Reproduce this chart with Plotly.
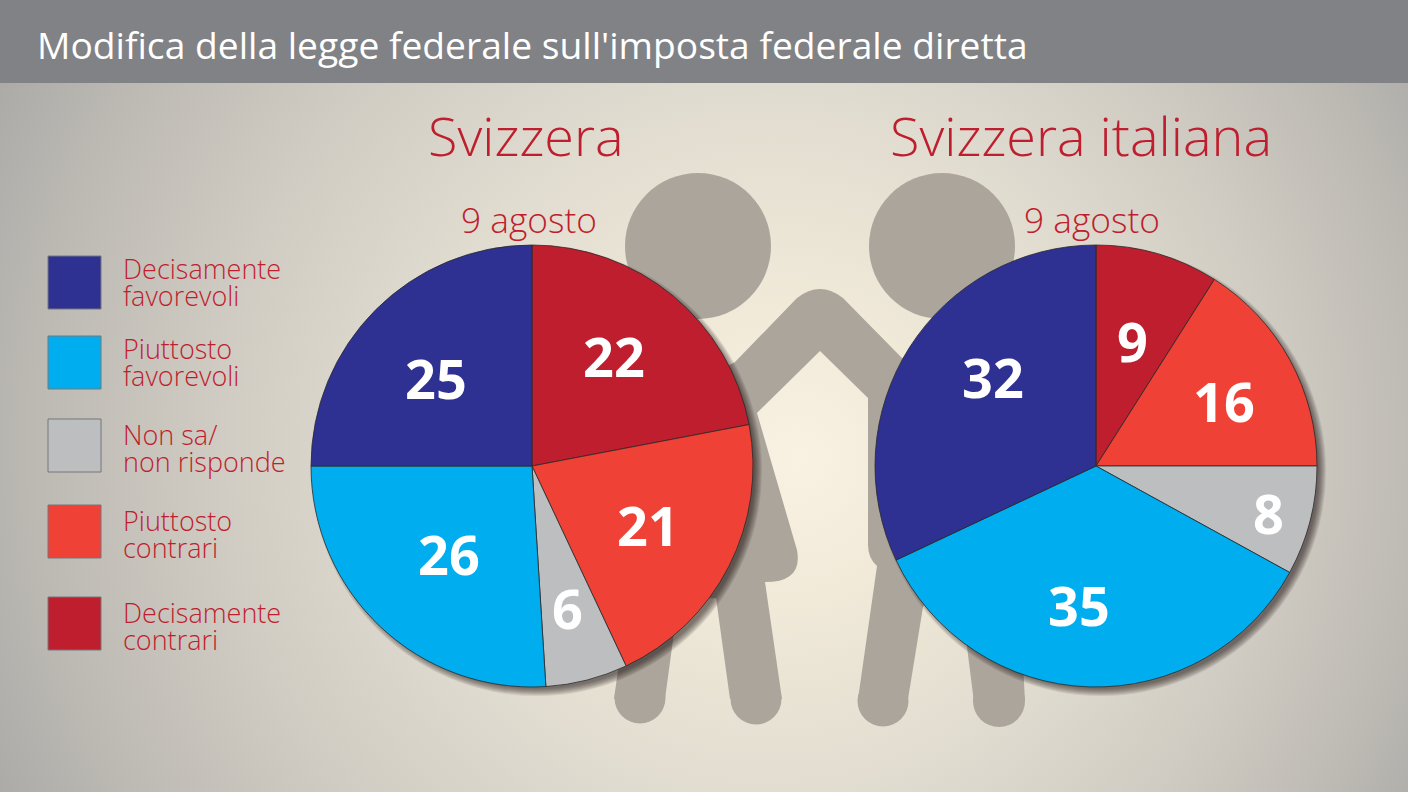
import base64
import plotly.graph_objects as go

W, H = 1408, 792

title = "Modifica della legge federale sull'imposta federale diretta"
panel_names = ["Svizzera", "Svizzera italiana"]
panel_date = "9 agosto"
categories = ["Decisamente contrari", "Piuttosto contrari", "Non sa/ non risponde",
              "Piuttosto favorevoli", "Decisamente favorevoli"]
values_svizzera = [22, 21, 6, 26, 25]
values_italiana = [9, 16, 8, 35, 32]
slice_colors = ["#be1e2d", "#ef4136", "#bcbec0", "#00aeef", "#2e3192"]

legend_lines = [["Decisamente", "favorevoli"], ["Piuttosto", "favorevoli"], ["Non sa/", "non risponde"],
                ["Piuttosto", "contrari"], ["Decisamente", "contrari"]]
legend_colors = ["#2e3192", "#00aeef", "#bcbec0", "#ef4136", "#be1e2d"]
legend_tops = [256, 336, 419, 505, 597]
legend_text_y = [283, 363, 449, 535, 627]

label_xy_svizzera = [(614, 356), (648, 525), (567, 608), (449, 554), (436, 378)]
label_xy_italiana = [(1132, 341), (1224, 401), (1268, 513), (1079, 605), (993, 377)]

RED = "#bf1e2e"
SIL = "#aca59c"


def px(x):
    return x / W


def py(y):
    return 1 - y / H


def path(cmds):
    out = []
    for c in cmds:
        op, pts = c[0], c[1:]
        out.append(op + " ".join(f"{px(p[0]):.5f},{py(p[1]):.5f}" for p in pts))
    return " ".join(out) + " Z"


def circle(cx, cy, r, **kw):
    return dict(type="circle", xref="paper", yref="paper", layer="below", x0=px(cx - r), x1=px(cx + r),
                y0=py(cy + r), y1=py(cy - r), **kw)


def rect(x0, y0, x1, y1, **kw):
    return dict(type="rect", xref="paper", yref="paper", layer="below", x0=px(x0), x1=px(x1),
                y0=py(y1), y1=py(y0), **kw)


def label(x, y, text, size, color, anchor="center", weight=None, family="Open Sans"):
    f = dict(size=size, color=color, family=family)
    if weight:
        f["weight"] = weight
    return dict(x=px(x), y=py(y), xref="paper", yref="paper", text=text, showarrow=False,
                xanchor=anchor, yanchor="middle", align="left" if anchor == "left" else "center",
                font=f, borderpad=0, borderwidth=0)


svg = f"""<svg xmlns="http://www.w3.org/2000/svg" width="{W}" height="{H}">
<defs><radialGradient id="g" gradientUnits="userSpaceOnUse" cx="720" cy="440" r="800" fx="800" fy="460">
<stop offset="0" stop-color="#f9f2e3"/><stop offset="0.18" stop-color="#f1ead9"/>
<stop offset="0.44" stop-color="#e1dcd0"/><stop offset="0.66" stop-color="#d0ccc3"/>
<stop offset="0.875" stop-color="#bcb9b3"/><stop offset="1" stop-color="#acaba8"/>
</radialGradient></defs><rect width="{W}" height="{H}" fill="url(#g)"/></svg>"""
bg = "data:image/svg+xml;base64," + base64.b64encode(svg.encode()).decode()

shapes = [rect(0, 0, W, 83, fillcolor="#808285", line_width=0)]

# silhouettes
sil = dict(type="path", xref="paper", yref="paper", layer="below", fillcolor=SIL, line_width=0)
shapes += [circle(698, 246, 73, fillcolor=SIL, line_width=0),
           circle(942, 246, 73, fillcolor=SIL, line_width=0)]
shapes.append(dict(sil, path=path([("M", (735, 362)), ("L", (797, 298)), ("Q", (820, 280), (843, 298)),
                                   ("L", (901, 357)), ("L", (960, 400)), ("L", (868, 398)), ("L", (820, 351)),
                                   ("L", (757, 413)), ("L", (700, 450)), ("L", (700, 380))])))
shapes.append(dict(sil, path=path([("M", (720, 370)), ("L", (757, 413)), ("L", (797, 550)),
                                   ("Q", (803, 582), (765, 582)), ("L", (782, 699)), ("L", (730, 699)),
                                   ("L", (716, 598)), ("L", (680, 600)), ("L", (673, 640)), ("L", (665, 699)),
                                   ("L", (614, 699)), ("L", (625, 620)), ("L", (600, 400))])))
shapes.append(dict(sil, path=path([("M", (868, 398)), ("L", (868, 545)), ("Q", (868, 558), (877, 566)),
                                   ("L", (858, 699)), ("L", (908, 699)), ("L", (923, 607)), ("L", (950, 560)),
                                   ("L", (985, 560)), ("L", (967, 647)), ("L", (974, 702)), ("L", (1025, 702)),
                                   ("L", (1020, 600)), ("L", (1000, 400)), ("L", (900, 380))])))
for cx, cy, r in [(640, 698, 25.5), (756, 699, 25.5), (883, 701, 25.5), (999, 701, 26)]:
    shapes.append(circle(cx, cy, r, fillcolor=SIL, line_width=0))

# soft pie shadows, falling to the lower right
for cx in (532, 1096):
    for i in range(8):
        shapes.append(circle(cx + 5, 471, 225 - i, fillcolor="rgba(20,15,10,0.085)", line_width=0))

for top, col in zip(legend_tops, legend_colors):
    shapes.append(rect(48, top, 101, top + 53, fillcolor=col, line=dict(color="#77777a", width=1)))

fig = go.Figure()
for vals, (x0, x1), name in [(values_svizzera, (311, 753), panel_names[0]),
                             (values_italiana, (875, 1317), panel_names[1])]:
    fig.add_trace(go.Pie(labels=categories, values=vals, sort=False, direction="clockwise", rotation=0,
                         textinfo="none", name=name, hoverinfo="label+value",
                         marker=dict(colors=slice_colors, line=dict(color="#2a2a2a", width=0.8)),
                         domain=dict(x=[px(x0), px(x1)], y=[py(687), py(245)]),
                         showlegend=False))

ann = [label(37, 44, title, 37.2, "#ffffff", "left"),
       label(526, 135, panel_names[0], 54, RED, weight=300),
       label(1081, 135, panel_names[1], 54, RED, weight=300),
       label(529, 219, panel_date, 35.3, RED, weight=300),
       label(1092, 219, panel_date, 35.3, RED, weight=300)]
# line spacing in plotly is 1.3 x the annotation font size: 27 px spacing needs a 20.8 base size
for lines, y in zip(legend_lines, legend_text_y):
    txt = "<br>".join(f'<span style="font-size:27px">{t}</span>' for t in lines)
    ann.append(label(123, y - 1, txt, 20.8, RED, "left", weight=300))
for vals, pos in [(values_svizzera, label_xy_svizzera), (values_italiana, label_xy_italiana)]:
    for v, (x, y) in zip(vals, pos):
        ann.append(label(x, y, str(v), 54, "#ffffff", weight=700))

fig.update_layout(width=W, height=H, margin=dict(l=0, r=0, t=0, b=0), paper_bgcolor="#e1dcd0",
                  images=[dict(source=bg, xref="paper", yref="paper", x=0, y=1, sizex=1, sizey=1,
                               xanchor="left", yanchor="top", sizing="stretch", layer="below")],
                  shapes=shapes, annotations=ann)
fig.write_html("out.html", config=dict(displayModeBar=False),
               post_script="document.body.style.margin='0';document.documentElement.style.overflow='hidden';")
